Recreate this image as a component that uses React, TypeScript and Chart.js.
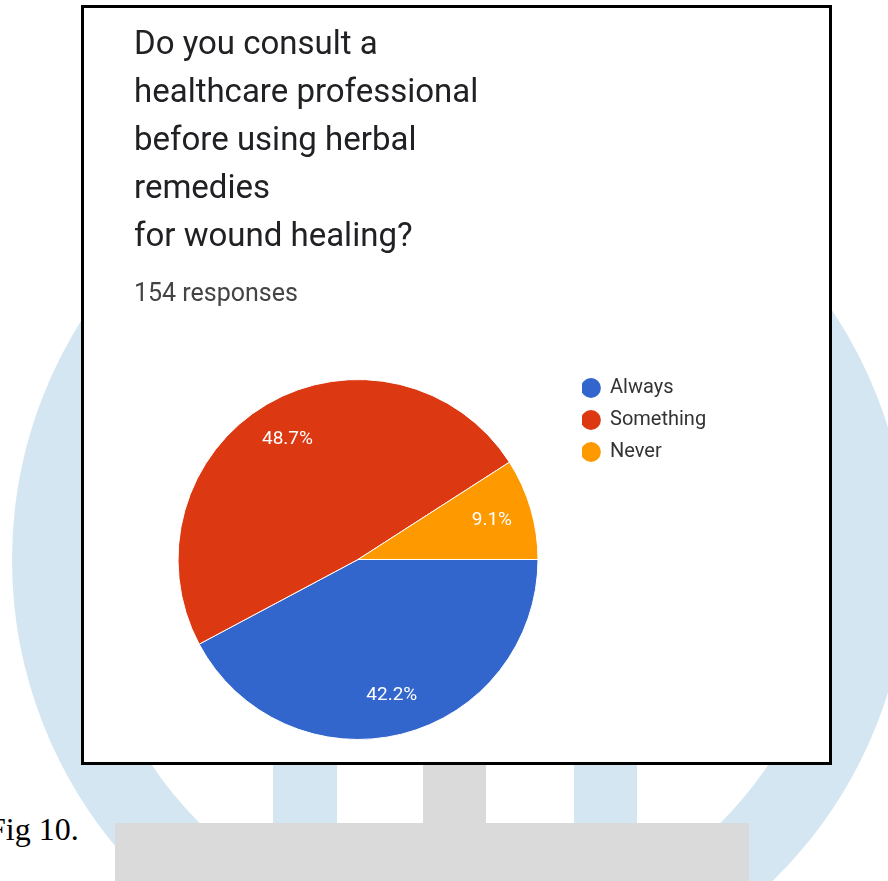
import React, { useEffect, useRef } from "react";
import { Chart, registerables } from "chart.js";

Chart.register(...registerables);

const categories = ["Always", "Something", "Never"];
const responses = [65, 75, 14];
const sliceColors = ["#3366CC", "#DC3912", "#FF9900"];
const titleLines = [
  "Do you consult a",
  "healthcare professional",
  "before using herbal",
  "remedies",
  "for wound healing?",
];
const subtitleText = "154 responses";

const CANVAS_W = 745;
const CANVAS_H = 754;
const LEGEND_FONT = 20;
const LEGEND_BOX = 18;

const pieLabels = {
  id: "pieLabels",
  afterDatasetsDraw(chart: any) {
    const meta = chart.getDatasetMeta(0);
    const data = chart.data.datasets[0].data as number[];
    const total = data.reduce((a, b) => a + b, 0);
    const ctx = chart.ctx;
    ctx.save();
    ctx.font = "19px Roboto";
    ctx.fillStyle = "#ffffff";
    ctx.textAlign = "center";
    ctx.textBaseline = "middle";
    meta.data.forEach((arc: any, i: number) => {
      const { x, y, startAngle, endAngle, outerRadius } = arc.getProps(
        ["x", "y", "startAngle", "endAngle", "outerRadius"],
        true
      );
      const mid = (startAngle + endAngle) / 2;
      const r = outerRadius * 0.775;
      const pct = ((data[i] / total) * 100).toFixed(1) + "%";
      ctx.fillText(pct, x + Math.cos(mid) * r, y + Math.sin(mid) * r);
    });
    ctx.restore();
  },
};

function PieChart() {
  const ref = useRef<HTMLCanvasElement | null>(null);
  useEffect(() => {
    if (!ref.current) return;
    const m = document.createElement("canvas").getContext("2d")!;
    m.font = `${LEGEND_FONT}px Roboto`;
    const maxText = Math.max(...categories.map((c) => m.measureText(c).width));
    const legendW = LEGEND_BOX + LEGEND_FONT / 2 + maxText;
    const chartAreaRight = 498;
    const padRight = Math.max(0, CANVAS_W - chartAreaRight - legendW - 10);

    const chart = new Chart(ref.current, {
      type: "pie",
      data: {
        labels: categories,
        datasets: [
          {
            data: responses,
            backgroundColor: sliceColors,
            borderColor: "#ffffff",
            borderWidth: 1,
            radius: 180,
          } as any,
        ],
      },
      plugins: [pieLabels],
      options: {
        animation: false,
        responsive: false,
        rotation: 90,
        layout: { padding: { left: 50, right: padRight, top: 0, bottom: 21 } },
        plugins: {
          tooltip: { enabled: false },
          title: {
            display: true,
            text: titleLines,
            align: "start",
            color: "#202124",
            font: { family: "Roboto", size: 33, weight: "normal", lineHeight: 1.4545 },
            padding: { top: 14, bottom: 10 },
          },
          subtitle: {
            display: true,
            text: subtitleText,
            align: "start",
            color: "#444444",
            font: { family: "Roboto", size: 25, weight: "normal", lineHeight: 1.2 },
            padding: { top: 8, bottom: 68 },
          },
          legend: {
            display: true,
            position: "right",
            align: "start",
            fullSize: false,
            labels: {
              usePointStyle: true,
              pointStyle: "circle",
              boxWidth: LEGEND_BOX,
              boxHeight: 14,
              padding: 0,
              color: "#333333",
              font: { family: "Roboto", size: LEGEND_FONT, lineHeight: 1.6 },
              generateLabels: () =>
                categories.map((c, i) => ({
                  text: [c] as any,
                  fillStyle: sliceColors[i],
                  strokeStyle: sliceColors[i],
                  lineWidth: 0,
                  pointStyle: "circle",
                  hidden: false,
                  index: i,
                  fontColor: "#333333",
                })),
            },
          },
        },
      } as any,
    });
    return () => chart.destroy();
  }, []);
  return <canvas ref={ref} width={CANVAS_W} height={CANVAS_H} style={{ display: "block" }} />;
}

export default function App() {
  const blue = "#d4e6f1";
  const gray = "#dadada";
  return (
    <div
      style={{
        position: "absolute",
        left: 0,
        top: 0,
        width: 888,
        height: 881,
        overflow: "hidden",
        background: "#ffffff",
      }}
    >
      <div
        style={{
          position: "absolute",
          left: 12,
          top: 112,
          width: 896,
          height: 896,
          boxSizing: "border-box",
          border: `78px solid ${blue}`,
          borderRadius: "50%",
        }}
      />
      <div style={{ position: "absolute", left: 273, top: 700, width: 64, height: 130, background: blue }} />
      <div style={{ position: "absolute", left: 574, top: 700, width: 63, height: 130, background: blue }} />
      <div style={{ position: "absolute", left: 423, top: 700, width: 63, height: 130, background: gray }} />
      <div style={{ position: "absolute", left: 115, top: 823, width: 634, height: 70, background: gray }} />
      <div
        style={{
          position: "absolute",
          left: -12,
          top: 811,
          fontFamily: "'Liberation Serif', 'Times New Roman', serif",
          fontSize: 32,
          lineHeight: "36px",
          color: "#000",
          whiteSpace: "nowrap",
        }}
      >
        Fig 10.
      </div>
      <div
        style={{
          position: "absolute",
          left: 81,
          top: 5,
          width: 751,
          height: 760,
          boxSizing: "border-box",
          border: "3px solid #000",
          background: "#ffffff",
        }}
      >
        <PieChart />
      </div>
    </div>
  );
}
